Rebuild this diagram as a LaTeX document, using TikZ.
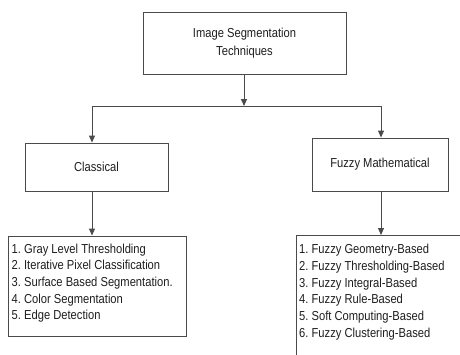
\documentclass[tikz,border=0pt]{standalone}
\usepackage{fontspec}
\setmainfont[FakeStretch=0.86]{Liberation Sans}
\usetikzlibrary{arrows.meta}
\definecolor{ln}{HTML}{4A4A4A}
\definecolor{tx}{HTML}{1E1E1E}
\begin{document}
\frenchspacing
\begin{tikzpicture}[x=1pt,y=-1pt,
  box/.style={draw=ln,line width=0.9pt,rectangle,inner sep=0pt,text=tx,align=center,font=\fontsize{13}{18}\selectfont\frenchspacing},
  listtext/.style={anchor=north west,inner sep=0pt,align=left,text=tx,font=\fontsize{13}{16.7}\selectfont\frenchspacing},
  arr/.style={draw=ln,line width=0.9pt,-{Triangle[length=7pt,width=6pt]}},
  ln/.style={draw=ln,line width=0.9pt}]
\useasboundingbox (0,0) rectangle (460,354);
\clip (0,0) rectangle (460,354);
\node[box,minimum width=203pt,minimum height=62pt] (top) at (244.5,43) {Image Segmentation\\Techniques};
\node[box,minimum width=143pt,minimum height=48pt] (cls) at (96.5,167) {Classical};
\node[box,minimum width=136pt,minimum height=53pt] (fuz) at (380,164.5) {Fuzzy Mathematical};
\node[draw=ln,line width=0.9pt,minimum width=178pt,minimum height=100pt,inner sep=0pt] (clist) at (97,286) {};
\node[draw=ln,line width=0.9pt,minimum width=180pt,minimum height=130pt,inner sep=0pt,anchor=north west] (flist) at (296,235) {};
\node[listtext] (ctext) at (11.5,243.5) {1. Gray Level Thresholding\\2. Iterative Pixel Classification\\3. Surface Based Segmentation.\\4. Color Segmentation\\5. Edge Detection};
\node[listtext] (ftext) at (299,244) {1. Fuzzy Geometry-Based\\2. Fuzzy Thresholding-Based\\3. Fuzzy Integral-Based\\4. Fuzzy Rule-Based\\5. Soft Computing-Based\\6. Fuzzy Clustering-Based};
\coordinate (j) at (244,106);
\coordinate (jl) at (92,106);
\coordinate (jr) at (381,106);
\draw[arr] (top.south -| j) -- (j);
\draw[ln] (jl) -- (jr);
\draw[arr] (jl) -- (cls.north -| jl);
\draw[arr] (jr) -- (fuz.north -| jr);
\draw[arr] (cls.south -| jl) -- (clist.north -| jl);
\draw[arr] (fuz.south -| jr) -- (flist.north -| jr);
\end{tikzpicture}
\end{document}
